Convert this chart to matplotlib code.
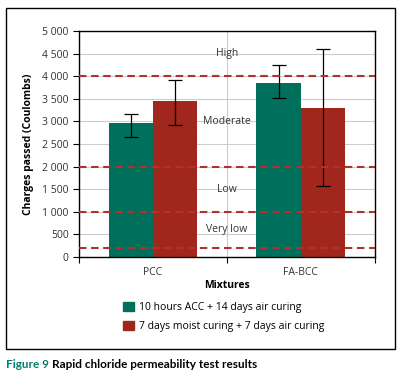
import numpy as np
import matplotlib
matplotlib.use("Agg")
import matplotlib.pyplot as plt
from matplotlib.patches import Patch, Rectangle

plt.rcParams['font.family'] = ['Open Sans', 'DejaVu Sans']

# Data
mixtures = ["PCC", "FA-BCC"]
series = ["10 hours ACC + 14 days air curing", "7 days moist curing + 7 days air curing"]
acc_vals = [2960, 3850]
acc_err_lo = [310, 340]
acc_err_hi = [200, 390]
moist_vals = [3450, 3300]
moist_err_lo = [540, 1730]
moist_err_hi = [460, 1310]
limits = [4000, 2000, 1000, 200]
bands = ["High", "Moderate", "Low", "Very low"]
band_pos = [4500, 3000, 1500, 600]

green = "#006f5b"
red = "#a1261c"
dash_red = "#b3302c"

fig = plt.figure(figsize=(4.03, 3.83), dpi=100)
ax = fig.add_axes([0.196, 0.329, 0.734, 0.590])

x = np.arange(len(mixtures))
w = 0.30
ax.bar(x - w / 2, acc_vals, w, color=green, zorder=2,
       yerr=[acc_err_lo, acc_err_hi], capsize=5,
       error_kw=dict(elinewidth=0.9, capthick=0.9, ecolor="black"))
ax.bar(x + w / 2, moist_vals, w, color=red, zorder=2,
       yerr=[moist_err_lo, moist_err_hi], capsize=5,
       error_kw=dict(elinewidth=0.9, capthick=0.9, ecolor="black"))

for lim in limits:
    ax.axhline(lim, color=dash_red, lw=1.5, ls=(0, (3.6, 2.2)), zorder=3)

for name, pos in zip(bands, band_pos):
    ax.text(0.5, pos, name, ha="center", va="center", fontsize=7.5,
            color="#333333", zorder=4)

ax.set_xlim(-0.5, 1.5)
ax.set_ylim(0, 5000)
ax.set_yticks(np.arange(0, 5001, 500))
ax.set_yticklabels(["{:,}".format(v).replace(",", " ") for v in range(0, 5001, 500)])
ax.set_xticks(x)
ax.set_xticklabels(mixtures)
ax.set_xticks([-0.5, 0.5, 1.5], minor=True)
ax.tick_params(axis="x", which="major", length=0, pad=7, labelsize=7.5, labelcolor="#333333")
ax.tick_params(axis="x", which="minor", length=4, direction="out", width=0.8)
ax.tick_params(axis="y", length=4, width=0.8, labelsize=7.5, labelcolor="#333333")
ax.grid(axis="y", color="#cccccc", lw=0.8, zorder=0)
ax.grid(axis="x", which="minor", color="#cccccc", lw=0.8, zorder=0)
for s in ax.spines.values():
    s.set_linewidth(1.0)
    s.set_color("black")

ax.set_ylabel("Charges passed (Coulombs)", fontsize=7.5, fontweight="bold", labelpad=6)
ax.set_xlabel("Mixtures", fontsize=7.5, fontweight="bold", labelpad=2)

handles = [Patch(color=green), Patch(color=red)]
fig.legend(handles, series, loc="upper left", bbox_to_anchor=(0.306, 0.212),
           frameon=False, fontsize=7.5, handlelength=1.0, handleheight=1.0,
           handletextpad=0.5, labelspacing=0.75, borderaxespad=0, borderpad=0)

fig.patches.append(Rectangle((6 / 403, 1 - 349 / 383), 389 / 403, 341 / 383,
                             transform=fig.transFigure, fill=False,
                             edgecolor="black", lw=1.0))

fig.text(6 / 403, 1 - 365 / 383, "Figure 9", color="#00806e", fontsize=8.5,
         fontweight="bold", va="center", family=["Lato", "DejaVu Sans"])
fig.text(52 / 403, 1 - 365 / 383, "Rapid chloride permeability test results",
         color="black", fontsize=8.5, fontweight="bold", va="center",
         family=["Lato", "DejaVu Sans"])

fig.savefig("out.png", dpi=100)
